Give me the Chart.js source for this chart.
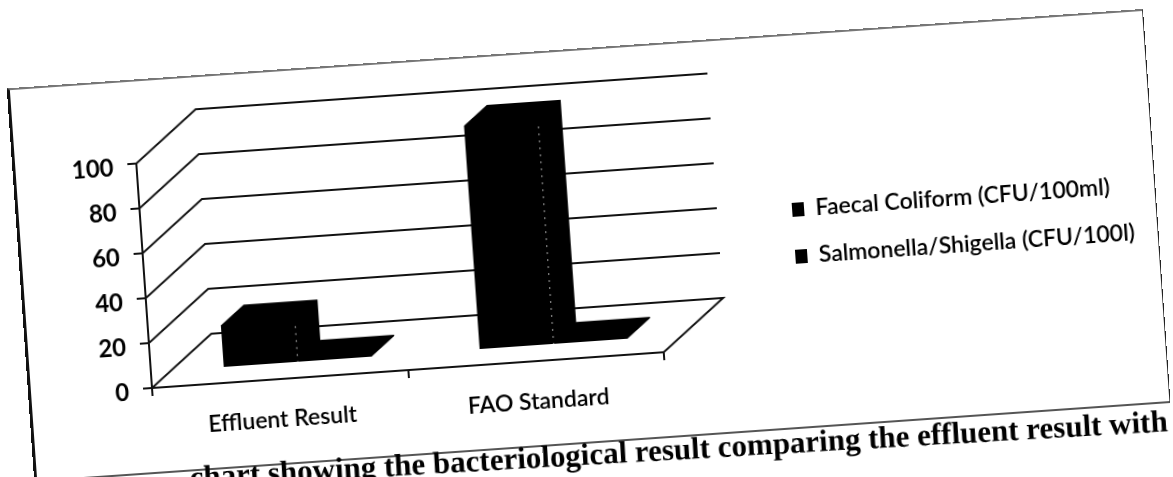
<!DOCTYPE html>
<html>
<head>
<meta charset="utf-8">
<style>
  html, body { margin: 0; padding: 0; background: #fff; overflow: hidden; width: 1173px; height: 477px; }
  #sheet { position: absolute; left: 28px; top: 79px; width: 1139px; height: 395px;
           transform-origin: 124px 309px; transform: rotate(-4deg); }
  #sheet canvas { position: absolute; left: 0; top: 0; }
  #frame { position: absolute; left: 0; top: 0; width: 1139px; height: 395px; box-sizing: border-box;
           border-left: 3px solid #111; border-top: 2px solid #777; border-right: 1px solid #222; border-bottom: 2px solid #555; }
  #caption { position: absolute; right: 4px; top: 398px; white-space: nowrap; line-height: 30px;
             font-family: "Liberation Serif", serif; font-weight: bold; font-size: 31px; color: #000;
             transform-origin: 100% 100%; transform: rotate(0.7deg); }
</style>
</head>
<body>
<div id="sheet">
  <canvas id="chart" width="1139" height="395"></canvas>
  <div id="frame"></div>
  <div id="caption">chart showing the bacteriological result comparing the effluent result with</div>
</div>
<script src="https://cdn.jsdelivr.net/npm/chart.js@4"></script>
<script>
const categories = ["Effluent Result", "FAO Standard"];
const faecalColiform = [19, 100];
const salmonellaShigella = [1, 1];
const yTicks = [0, 20, 40, 60, 80, 100];

// 3D look of the old Excel chart: wall depth and where the bars stand in it
const wallDepth = { x: 63, y: -50 };
const barOffset = { x: 19, y: -15 };
const barDepth = { x: 24, y: -19 };

const depthPlugin = {
  id: "depth",
  beforeLayout(chart) {
    // keep the plot at its width, legend is moved over afterwards
    const legend = chart.legend;
    if (!legend._patched) {
      const fit = legend.fit;
      legend.fit = function () { fit.call(this); this.width = 502; };
      legend._patched = true;
    }
  },
  afterLayout(chart) {
    const legend = chart.legend;
    legend.left = 751;
    legend.right = 1139;
    legend.top -= 22;
    legend.bottom -= 22;
  },
  beforeDatasetsDraw(chart) {
    const ctx = chart.ctx, x = chart.scales.x, y = chart.scales.y;
    ctx.save();
    ctx.strokeStyle = "#111";
    ctx.lineWidth = 2;
    yTicks.forEach(v => {
      const py = y.getPixelForValue(v);
      ctx.beginPath();
      ctx.moveTo(x.left, py);
      ctx.lineTo(x.left + wallDepth.x, py + wallDepth.y);
      ctx.lineTo(x.right + wallDepth.x, py + wallDepth.y);
      if (v === 0) ctx.lineTo(x.right, py);
      ctx.stroke();
    });
    ctx.restore();
    ctx.save();
    ctx.translate(barOffset.x, barOffset.y);
  },
  afterDatasetsDraw(chart) {
    const ctx = chart.ctx;
    ctx.fillStyle = "#000";
    chart.data.datasets.forEach((ds, i) => {
      chart.getDatasetMeta(i).data.forEach(bar => {
        const l = bar.x - bar.width / 2, r = bar.x + bar.width / 2;
        ctx.beginPath();
        ctx.moveTo(l, bar.y);
        ctx.lineTo(l + barDepth.x, bar.y + barDepth.y);
        ctx.lineTo(r + barDepth.x, bar.y + barDepth.y);
        ctx.lineTo(r + barDepth.x, bar.base + barDepth.y);
        ctx.lineTo(r, bar.base);
        ctx.lineTo(l, bar.base);
        ctx.closePath();
        ctx.fill();
      });
    });
    // speckled edge between front and side of the tall bars
    const meta = chart.getDatasetMeta(0);
    ctx.strokeStyle = "rgba(255,255,255,0.65)";
    ctx.lineWidth = 1;
    ctx.setLineDash([2, 5]);
    meta.data.forEach(bar => {
      ctx.beginPath();
      ctx.moveTo(bar.x + bar.width / 2, bar.y + 6);
      ctx.lineTo(bar.x + bar.width / 2, bar.base);
      ctx.stroke();
    });
    ctx.restore();
  }
};

new Chart(document.getElementById("chart"), {
  type: "bar",
  data: {
    labels: categories,
    datasets: [
      { label: "Faecal Coliform (CFU/100ml)", data: faecalColiform, backgroundColor: "#000", borderWidth: 0 },
      { label: "Salmonella/Shigella (CFU/100l)", data: salmonellaShigella, backgroundColor: "#000", borderWidth: 0 }
    ]
  },
  options: {
    responsive: false,
    animation: false,
    devicePixelRatio: 1,
    categoryPercentage: 0.577,
    barPercentage: 1,
    layout: { padding: { left: 50, top: 84, right: 0, bottom: 36 } },
    plugins: {
      tooltip: { enabled: false },
      legend: {
        position: "right",
        labels: {
          color: "#000",
          font: { family: "Lato", size: 23, weight: "600" },
          boxWidth: 12,
          boxHeight: 14,
          padding: 24
        }
      }
    },
    scales: {
      x: {
        afterFit(scale) { scale.height = 50; },
        border: { color: "#111", width: 2 },
        grid: { drawOnChartArea: false, drawTicks: true, tickLength: 8, color: "#111", lineWidth: 2 },
        ticks: { color: "#000", padding: 19, font: { family: "Lato", size: 23, weight: "600" }, maxRotation: 0 }
      },
      y: {
        min: 0,
        max: 100,
        afterFit(scale) { scale.width = 74; },
        afterBuildTicks(scale) { scale.ticks = yTicks.map(v => ({ value: v })); },
        border: { color: "#111", width: 2 },
        grid: { drawOnChartArea: false, drawTicks: true, tickLength: 9, color: "#111", lineWidth: 2 },
        ticks: { color: "#000", padding: 14, labelOffset: 3, font: { family: "Lato", size: 24, weight: "700" } }
      }
    }
  },
  plugins: [depthPlugin]
});
</script>
</body>
</html>
